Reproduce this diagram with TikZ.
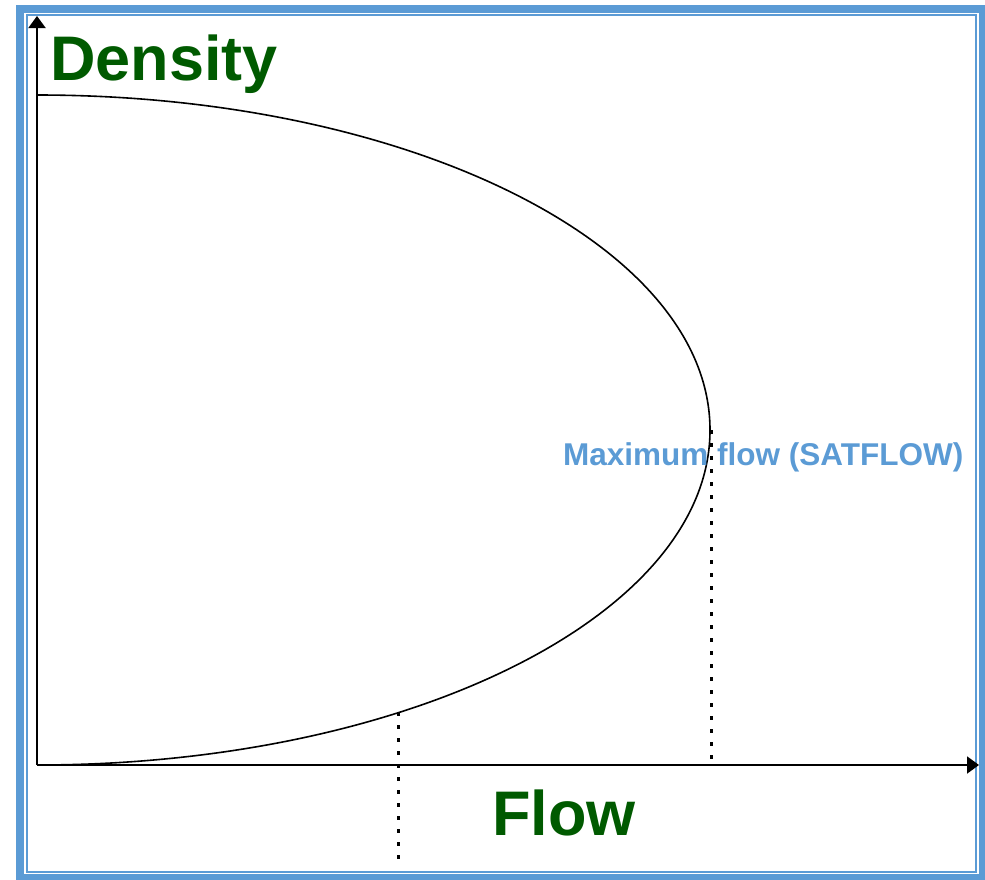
\documentclass[tikz,border=0pt]{standalone}
\usepackage{fontspec}
\setmainfont{Liberation Sans}
\usetikzlibrary{arrows.meta}
\definecolor{framebl}{RGB}{91,155,213}
\definecolor{dgreen}{RGB}{0,90,0}
\tikzset{
  axis/.style={line width=2pt,-{Triangle[length=12pt,width=17pt]}},
  curve/.style={line width=1.6pt},
  dotline/.style={line width=3pt,dash pattern=on 3.5pt off 9.5pt},
  bigtxt/.style={inner sep=0,anchor=base west,text=dgreen,font=\bfseries\fontsize{63}{63}\selectfont},
  smalltxt/.style={inner sep=0,anchor=base west,text=framebl,font=\bfseries\fontsize{31.5}{31.5}\selectfont},
}
\begin{document}
\begin{tikzpicture}[x=1pt,y=-1pt]
\useasboundingbox (0,0) rectangle (985,879);
\fill[white] (0,0) rectangle (985,879);
% frame
\draw[framebl,line width=8pt] (20,9) rectangle (983,878);
\draw[framebl,line width=2pt] (27,15) rectangle (976,872);
% axes
\coordinate (O) at (37,765);
\coordinate (ytip) at (37,16);
\coordinate (xtip) at (979,765);
\draw[axis] (O) -- (ytip);
\draw[axis] (O) -- (xtip);
% curve (half ellipse)
\coordinate (top) at (37,95);
\coordinate (maxp) at (710,430);
\draw[curve] (top) arc[start angle=90,end angle=-90,x radius=673,y radius=-335];
% dotted lines
\coordinate (d1a) at (711,430);
\coordinate (d1b) at (711,765);
\coordinate (d2a) at (398,712);
\coordinate (d2b) at (398,864);
\draw[dotline] (d1a) -- (d1b);
\draw[dotline] (d2a) -- (d2b);
% labels
\node[bigtxt] (dens) at (50,80) {Density};
\node[bigtxt] (flow) at (492,835) {Flow};
\node[smalltxt] (maxf) at (563,465) {Maximum flow (SATFLOW)};
\end{tikzpicture}
\end{document}
